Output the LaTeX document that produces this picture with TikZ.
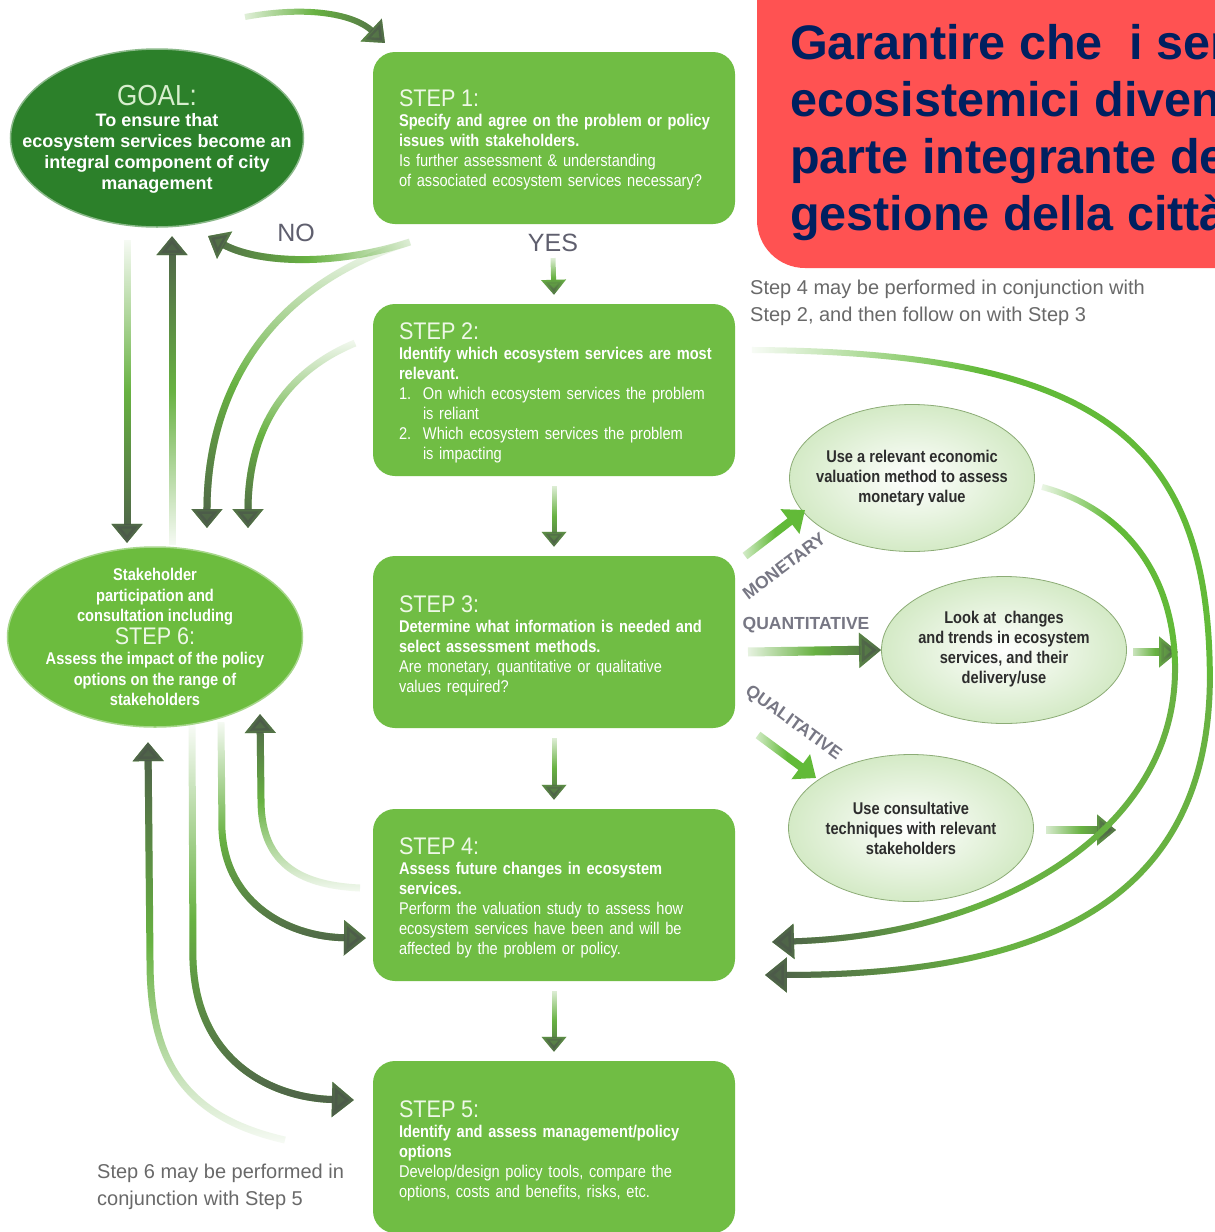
\documentclass[tikz,border=0pt]{standalone}
\usepackage{fontspec}
\setmainfont{Liberation Sans}
\newfontfamily\cond[FakeStretch=0.86]{Liberation Sans}
\newfontfamily\headf[FakeStretch=0.9]{Liberation Sans}
\usetikzlibrary{arrows.meta,shapes.geometric,fadings}

\definecolor{stepgreen}{RGB}{112,189,68}
\definecolor{goalgreen}{RGB}{44,128,42}
\definecolor{stakegreen}{RGB}{108,188,62}
\definecolor{cgreen}{RGB}{104,178,66}
\definecolor{cdark}{RGB}{76,90,74}
\definecolor{cbright}{RGB}{98,186,56}
\definecolor{headc}{RGB}{238,248,230}
\definecolor{goalhead}{RGB}{215,238,205}
\definecolor{notegrey}{RGB}{105,105,105}
\definecolor{labgrey}{RGB}{95,95,110}
\definecolor{redbox}{RGB}{255,82,82}
\definecolor{navy}{RGB}{0,32,96}
\definecolor{ellline}{RGB}{140,172,118}
\definecolor{ellfill}{RGB}{212,234,198}
\definecolor{elltext}{RGB}{45,45,45}

% fade-in (green layer) and late dark layer, for each direction of travel
\tikzfading[name=inS, top color=transparent!100, bottom color=transparent!0, middle color=transparent!0]
\tikzfading[name=dkS, top color=transparent!100, bottom color=transparent!0, middle color=transparent!100]
\tikzfading[name=inN, bottom color=transparent!100, top color=transparent!0, middle color=transparent!0]
\tikzfading[name=dkN, bottom color=transparent!100, top color=transparent!0, middle color=transparent!100]
\tikzfading[name=inE, left color=transparent!100, right color=transparent!0, middle color=transparent!0]
\tikzfading[name=dkE, left color=transparent!100, right color=transparent!0, middle color=transparent!100]
\tikzfading[name=inW, right color=transparent!100, left color=transparent!0, middle color=transparent!0]
\tikzfading[name=dkW, right color=transparent!100, left color=transparent!0, middle color=transparent!100]
\tikzfading[name=opaque, top color=transparent!0, bottom color=transparent!0]

\newcommand\stephead[1]{{\headf\fontsize{24}{24}\selectfont\color{headc}#1}}
\newcommand\stepnum[1]{\makebox[24pt][l]{#1}}
\newcommand\stepind{\hspace*{24pt}}

\tikzset{
  stepbox/.style={rectangle, rounded corners=22pt, fill=stepgreen, minimum width=362pt,
    minimum height=172pt, text width=310pt, inner xsep=26pt, inner ysep=0pt, align=left,
    text=white, font=\cond\fontsize{17}{20}\selectfont},
  goalell/.style={ellipse, fill=goalgreen, draw=goalgreen!55!white, line width=1.5pt,
    minimum width=293pt, minimum height=178pt, inner sep=0pt},
  stakeell/.style={ellipse, fill=stakegreen, draw=stakegreen!60!white, line width=1.5pt,
    minimum width=295pt, minimum height=180pt, inner sep=0pt},
  resell/.style={ellipse, shade, inner color=white, outer color=ellfill, draw=ellline,
    line width=0.8pt, minimum width=245pt, minimum height=147pt, inner sep=0pt},
  elltxt/.style={align=center, text=elltext, inner sep=0pt,
    font=\cond\bfseries\fontsize{17}{20}\selectfont},
  gS/.style={draw=cdark, line width=#1, path fading=dkS, preaction={draw=cgreen, line width=#1, path fading=inS}},
  gN/.style={draw=cdark, line width=#1, path fading=dkN, preaction={draw=cgreen, line width=#1, path fading=inN}},
  gE/.style={draw=cdark, line width=#1, path fading=dkE, preaction={draw=cgreen, line width=#1, path fading=inE}},
  gW/.style={draw=cdark, line width=#1, path fading=dkW, preaction={draw=cgreen, line width=#1, path fading=inW}},
  grE/.style={draw=cbright, line width=#1, path fading=inE},
  arcB/.style={draw=cdark, line width=#1, path fading=dkW, preaction={draw=cgreen, line width=#1, path fading=opaque}},
  tipbig/.style={-{Triangle[width=34pt,length=22pt]}},
  tipmid/.style={-{Triangle[width=30pt,length=19pt]}},
  tipsmall/.style={-{Triangle[width=24pt,length=15pt]}},
  lab/.style={text=labgrey, font=\fontsize{25}{25}\selectfont, inner sep=0pt},
  note/.style={anchor=north west, align=left, text=notegrey, inner sep=0pt,
    font=\fontsize{20}{27}\selectfont},
  vlab/.style={text=labgrey!85, inner sep=0pt, font=\bfseries\fontsize{17.5}{18}\selectfont},
}

\begin{document}
\begin{tikzpicture}[x=1pt,y=-1pt]
\useasboundingbox (0,0) rectangle (1215,1232);
\clip (0,0) rectangle (1215,1232);
\fill[white] (0,0) rectangle (1215,1232);

% ---------- main nodes ----------
\node[goalell] (goal) at (157,138) {};
\node[align=center, text=white, inner sep=0pt, font=\bfseries\fontsize{18}{21}\selectfont] (goaltxt) at (157,139)
  {{\headf\mdseries\fontsize{29}{29}\selectfont\color{goalhead}GOAL:}\\To ensure that\\ecosystem services become an\\integral component of city\\management};

\node[stakeell] (stake) at (155,637) {};
\node[align=center, text=white, inner sep=0pt, font=\cond\bfseries\fontsize{17}{20.5}\selectfont] (staketxt) at (155,637)
  {Stakeholder\\participation and\\consultation including\\[2pt] {\headf\mdseries\fontsize{24}{24}\selectfont\color{headc}STEP 6:}\\Assess the impact of the policy\\options on the range of\\stakeholders};

\node[stepbox] (step1) at (554,138) {\begin{tabular}{@{}l@{}}\stephead{STEP 1:}\\
\textbf{Specify and agree on the problem or policy}\\
\textbf{issues with stakeholders.}\\
Is further assessment \& understanding\\
of associated ecosystem services necessary?\end{tabular}\vspace*{-7pt}};

\node[stepbox] (step2) at (554,390) {\begin{tabular}{@{}l@{}}\stephead{STEP 2:}\\
\textbf{Identify which ecosystem services are most}\\
\textbf{relevant.}\\
\stepnum{1.}On which ecosystem services the problem\\
\stepind is reliant\\
\stepnum{2.}Which ecosystem services the problem\\
\stepind is impacting\end{tabular}\vspace*{-8pt}};

\node[stepbox] (step3) at (554,642) {\begin{tabular}{@{}l@{}}\stephead{STEP 3:}\\
\textbf{Determine what information is needed and}\\
\textbf{select assessment methods.}\\
Are monetary, quantitative or qualitative\\
values required?\end{tabular}\vspace*{-10pt}};

\node[stepbox] (step4) at (554,895) {\begin{tabular}{@{}l@{}}\stephead{STEP 4:}\\
\textbf{Assess future changes in ecosystem}\\
\textbf{services.}\\
Perform the valuation study to assess how\\
ecosystem services have been and will be\\
affected by the problem or policy.\end{tabular}\vspace*{-8pt}};

\node[stepbox] (step5) at (554,1147) {\begin{tabular}{@{}l@{}}\stephead{STEP 5:}\\
\textbf{Identify and assess management/policy}\\
\textbf{options}\\
Develop/design policy tools, compare the\\
options, costs and benefits, risks, etc.\end{tabular}\vspace*{-10pt}};

\node[resell] (e1) at (912,478) {};
\node[elltxt] (e1t) at (912,478) {Use a relevant economic\\valuation method to assess\\monetary value};
\node[resell] (e2) at (1004,650) {};
\node[elltxt] (e2t) at (1004,649) {Look at\ \ changes\\and trends in ecosystem\\services, and their\\delivery/use};
\node[resell] (e3) at (911,828) {};
\node[elltxt] (e3t) at (911,828) {Use consultative\\techniques with relevant\\stakeholders};

% ---------- labels ----------
\node[lab] (yes) at (553,243) {YES};
\node[lab] (no) at (296,233) {NO};
\node[vlab, rotate=37] (mon) at (784,566) {MONETARY};
\node[vlab] (quant) at (806,625) {QUANTITATIVE};
\node[vlab, rotate=-36] (qual) at (793,723) {QUALITATIVE};
\node[note] (note4) at (750,280) {Step 4 may be performed in conjunction with\\Step 2, and then follow on with Step 3};
\node[note] (note6) at (97,1164) {Step 6 may be performed in\\conjunction with Step 5};

% ---------- coordinates ----------
\coordinate (topS) at (245,17);
\coordinate (topE) at (385,43);
\coordinate (exit1) at (410,242);
\coordinate (noE) at (208,236);
\coordinate (c1E) at (207,528);
\coordinate (c2S) at (355,343);
\coordinate (c2E) at (248,528);
\coordinate (l1S) at (127,240);
\coordinate (l1E) at (127,543);
\coordinate (l2S) at (172,545);
\coordinate (l2E) at (172,236);
\coordinate (b1S) at (285,1140);
\coordinate (b1E) at (148,742);
\coordinate (b2S) at (192,725);
\coordinate (b2E) at (354,1100);
\coordinate (b3S) at (221,722);
\coordinate (b3E) at (366,938);
\coordinate (b4S) at (360,888);
\coordinate (b4E) at (260,714);
\coordinate (a1S) at (752,350);
\coordinate (a1M) at (1210,680);
\coordinate (a1E) at (765,975);
\coordinate (a2S) at (1042,487);
\coordinate (a2M) at (1175,665);
\coordinate (a2E) at (772,942);

% ---------- connectors (left) ----------
\draw[gE=6pt, tipmid] (230,-10) (400,60) (topS) .. controls (310,5) and (355,15) .. (topE);
\draw[gW=7pt, tipmid] (190,215) (425,285) (exit1) .. controls (330,268) and (255,262) .. (noE);
\draw[gS=7pt, tipmid] (185,235) (425,535) (exit1) .. controls (270,285) and (207,390) .. (c1E);
\draw[gS=7pt, tipmid] (225,335) (370,535) (c2S) .. controls (285,372) and (248,430) .. (c2E);
\draw[gS=7pt, tipmid] (105,235) (150,548) (l1S) -- (l1E);
\draw[gN=7pt, tipmid] (150,230) (195,550) (l2S) -- (l2E);
\draw[gN=7pt, tipmid] (125,735) (300,1150) (b1S) .. controls (175,1115) and (150,1050) .. (150,960) -- (b1E);
\draw[gS=7pt, tipbig] (170,720) (365,1120) (b2S) -- (193,960) .. controls (196,1060) and (270,1098) .. (b2E);
\draw[gS=7pt, tipbig] (198,718) (375,958) (b3S) -- (222,830) .. controls (226,905) and (290,937) .. (b3E);
\draw[gN=7pt, tipmid] (238,708) (370,895) (b4S) .. controls (295,885) and (261,860) .. (261,800) -- (b4E);

% ---------- vertical step arrows ----------
\draw[gS=5pt, tipsmall] (533,255) (573,300) ([yshift=-6pt]yes.south) -- ([yshift=9pt]step2.north);
\draw[gS=5pt, tipsmall] (533,480) (573,552) ([yshift=-10pt]step2.south) -- ([yshift=9pt]step3.north);
\draw[gS=5pt, tipsmall] (533,732) (573,804) ([yshift=-10pt]step3.south) -- ([yshift=9pt]step4.north);
\draw[gS=5pt, tipsmall] (533,985) (573,1056) ([yshift=-10pt]step4.south) -- ([yshift=9pt]step5.north);

% ---------- right side arrows ----------
\draw[grE=8pt, tipmid] (735,495) (815,570) (745,556) -- (805,510);
\draw[gE=9pt, tipbig] (740,630) (890,675) (748,652) -- (e2.west);
\draw[grE=8pt, tipmid] (748,722) (826,792) (758,735) -- (816,778);
\draw[gE=8pt, tipmid] (1125,630) (1185,675) (1133,652) -- (1178,652);
\draw[gE=8pt, tipmid] (1038,810) (1124,850) (1046,830) -- (1116,830);

\draw[grE=6pt] (745,340) (1220,690) (a1S) .. controls (1100,352) and (1210,440) .. (a1M);
\draw[arcB=6pt, tipbig] (755,670) (1220,995) (a1M) .. controls (1208,910) and (1030,975) .. (a1E);
\draw[grE=6pt] (1035,480) (1185,675) (a2S) .. controls (1110,505) and (1173,560) .. (a2M);
\draw[arcB=6pt, tipbig] (762,655) (1185,962) (a2M) .. controls (1178,830) and (1000,935) .. (a2E);

% ---------- red box ----------
\fill[redbox] (757,-60) [rounded corners=48pt] -- (757,268) -- (1300,268) [sharp corners] -- (1300,-60) -- cycle;
\node[anchor=north west, align=left, inner sep=0pt, text=navy, font=\bfseries\fontsize{48.5}{57}\selectfont]
  (redtxt) at (790,24) {Garantire che\ \ i ser\\ecosistemici diven\\parte integrante de\\gestione della città};
\end{tikzpicture}
\end{document}
